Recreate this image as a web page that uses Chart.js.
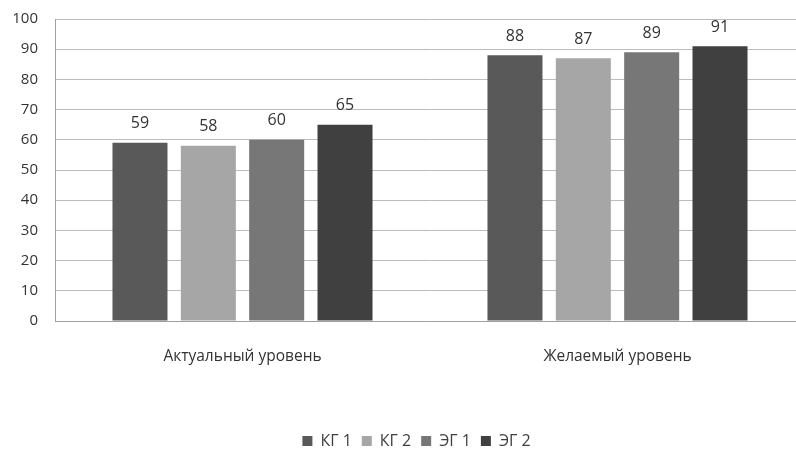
<!DOCTYPE html>
<html><head><meta charset="utf-8">
<script src="https://cdn.jsdelivr.net/npm/chart.js@4/dist/chart.umd.min.js"></script>
<style>
html,body{margin:0;padding:0;background:#fff;overflow:hidden;}
#wrap{width:810px;height:452px;position:relative;}
</style></head>
<body><div id="wrap"><canvas id="c" width="810" height="452"></canvas></div>
<script>
const categories = ["Актуальный уровень", "Желаемый уровень"];
const seriesNames = ["КГ 1", "КГ 2", "ЭГ 1", "ЭГ 2"];
const kg1 = [59, 88];
const kg2 = [58, 87];
const eg1 = [60, 89];
const eg2 = [65, 91];
const yTicks = [0, 10, 20, 30, 40, 50, 60, 70, 80, 90, 100];

const colors = ["#595959", "#a6a6a6", "#777777", "#404040"];
const FONT = "'Open Sans', 'Liberation Sans', Arial, sans-serif";

const valueLabels = {
  id: 'valueLabels',
  afterDatasetsDraw(chart) {
    const ctx = chart.ctx;
    ctx.save();
    ctx.font = "16px " + FONT;
    ctx.fillStyle = "#333333";
    ctx.textAlign = "center";
    ctx.textBaseline = "middle";
    chart.data.datasets.forEach((ds, di) => {
      const meta = chart.getDatasetMeta(di);
      meta.data.forEach((bar, i) => {
        ctx.fillText(String(ds.data[i]), bar.x, bar.y - 19);
      });
    });
    ctx.restore();
  }
};

const legendShift = {
  id: 'legendShift',
  afterLayout(chart) {
    const l = chart.legend;
    if (!l) return;
    l.left += 14; l.right += 14;
    if (l.adjustHitBoxes) l.adjustHitBoxes();
  }
};

new Chart(document.getElementById('c'), {
  type: 'bar',
  data: {
    labels: categories,
    datasets: [
      {label: seriesNames[0], data: kg1, backgroundColor: colors[0]},
      {label: seriesNames[1], data: kg2, backgroundColor: colors[1]},
      {label: seriesNames[2], data: eg1, backgroundColor: colors[2]},
      {label: seriesNames[3], data: eg2, backgroundColor: colors[3]}
    ]
  },
  options: {
    responsive: false,
    animation: false,
    devicePixelRatio: 1,
    layout: {padding: {top: 19, right: 5, left: 0, bottom: -7}},
    datasets: {bar: {categoryPercentage: 0.729, barPercentage: 0.805}},
    plugins: {
      legend: {
        position: 'bottom',
        labels: {
          font: {family: FONT, size: 16},
          color: "#404040",
          boxWidth: 10, boxHeight: 10,
          padding: 10
        }
      },
      tooltip: {enabled: false}
    },
    scales: {
      x: {
        grid: {display: false, drawTicks: false},
        border: {display: true, color: "#a0a0a0", width: 1},
        ticks: {font: {family: FONT, size: 15.5}, color: "#333333", padding: 26},
        afterFit(scale) { scale.height = 102; scale.paddingLeft = 0; scale.paddingRight = 0; }
      },
      y: {
        min: 0, max: 100,
        afterBuildTicks(scale) { scale.ticks = yTicks.map(v => ({value: v})); },
        grid: {color: "#bdbdbd", drawTicks: false, lineWidth: 1},
        border: {display: true, color: "#a0a0a0", width: 1},
        ticks: {font: {family: FONT, size: 15}, color: "#333333", padding: 17},
        afterFit(scale) { scale.width = 55; scale.paddingTop = 0; scale.paddingBottom = 0; }
      }
    }
  },
  plugins: [valueLabels, legendShift]
});
</script></body></html>
